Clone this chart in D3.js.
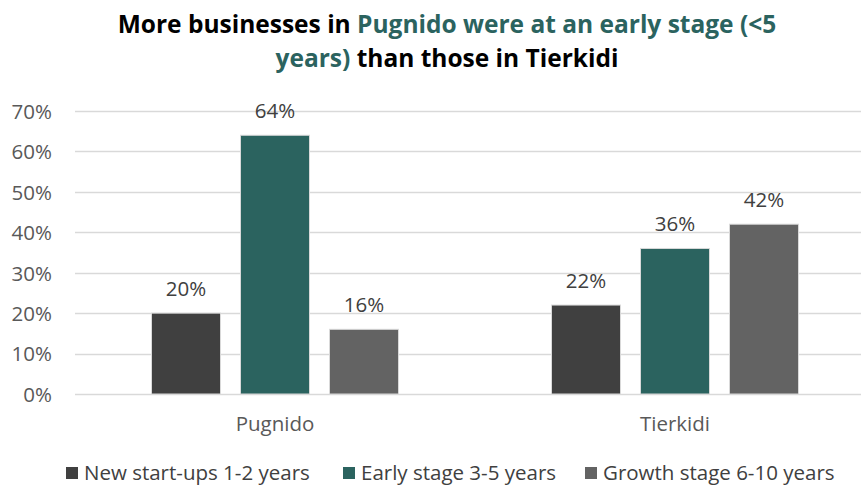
<!DOCTYPE html>
<html>
<head>
<meta charset="utf-8">
<script src="https://cdnjs.cloudflare.com/ajax/libs/d3/7.8.5/d3.min.js"></script>
<style>
  html, body { margin: 0; padding: 0; background: #fff; }
  svg { display: block; font-family: "Open Sans", sans-serif; }
</style>
</head>
<body>
<svg id="chart" width="861" height="491"></svg>
<script>
// Business stage by camp (share of businesses)
const categories = ["Pugnido", "Tierkidi"];
const seriesNames = ["New start-ups 1-2 years", "Early stage 3-5 years", "Growth stage 6-10 years"];
const newStartups = [20, 22];
const earlyStage = [64, 36];
const growthStage = [16, 42];
const yTicks = [0, 10, 20, 30, 40, 50, 60, 70];
const colors = ["#404040", "#2b635f", "#636363"];

const series = [newStartups, earlyStage, growthStage];

const W = 861, H = 491;
const plot = { left: 75, right: 875, top: 111, bottom: 394 };
const groupWidth = 247;
const FONT = "'Open Sans', sans-serif";
const LABEL_SIZE = 20.5;

const svg = d3.select("#chart");

const x0 = d3.scaleBand().domain(categories).range([plot.left, plot.right]).paddingInner(0).paddingOuter(0);
const x1 = d3.scaleBand().domain(d3.range(seriesNames.length)).range([0, groupWidth]).paddingInner(0.2247).paddingOuter(0);
const y = d3.scaleLinear().domain([0, 70]).range([plot.bottom, plot.top]);

// gridlines
svg.append("g")
  .selectAll("line")
  .data(yTicks)
  .join("line")
  .attr("x1", plot.left).attr("x2", W)
  .attr("y1", d => Math.round(y(d)) + 0.5).attr("y2", d => Math.round(y(d)) + 0.5)
  .attr("stroke", "#d9d9d9").attr("stroke-width", 1.3);

// y axis labels
const yAxis = d3.axisLeft(y).tickValues(yTicks).tickFormat(d => d + "%").tickSize(0).tickPadding(0);
const ya = svg.append("g").attr("transform", `translate(52,0)`).call(yAxis);
ya.select(".domain").remove();
ya.selectAll("text")
  .attr("font-family", FONT)
  .attr("font-size", LABEL_SIZE).attr("fill", "#595959").attr("dy", "0.36em");

// bars
const groups = svg.append("g")
  .selectAll("g")
  .data(categories)
  .join("g")
  .attr("transform", c => `translate(${x0(c) + (x0.bandwidth() - groupWidth) / 2},0)`);

groups.selectAll("rect")
  .data((c, ci) => series.map((s, si) => ({ si, v: s[ci] })))
  .join("rect")
  .attr("x", d => x1(d.si))
  .attr("width", x1.bandwidth())
  .attr("y", d => y(d.v))
  .attr("height", d => y(0) - y(d.v))
  .attr("fill", d => colors[d.si])
  .attr("stroke", "#d9d9d9").attr("stroke-width", 1);

groups.selectAll("text.val")
  .data((c, ci) => series.map((s, si) => ({ si, v: s[ci] })))
  .join("text")
  .attr("class", "val")
  .attr("x", d => x1(d.si) + x1.bandwidth() / 2)
  .attr("y", d => y(d.v) - 17)
  .attr("text-anchor", "middle")
  .attr("font-size", LABEL_SIZE).attr("fill", "#404040")
  .text(d => d.v + "%");

// category labels
const xAxis = d3.axisBottom(x0).tickSize(0).tickPadding(0);
const xa = svg.append("g").attr("transform", `translate(0,${plot.bottom})`).call(xAxis);
xa.select(".domain").remove();
xa.selectAll("text")
  .attr("font-family", FONT)
  .attr("font-size", LABEL_SIZE).attr("fill", "#595959").attr("dy", 0).attr("y", 37);

// title
const title = svg.append("text")
  .attr("text-anchor", "middle")
  .attr("font-size", 24.5).attr("font-weight", "bold").attr("fill", "#000");
const t1 = title.append("tspan").attr("x", 447).attr("y", 33);
t1.append("tspan").text("More businesses in ");
t1.append("tspan").attr("fill", "#2b635f").text("Pugnido were at an early stage (<5");
const t2 = title.append("tspan").attr("x", 447).attr("y", 67);
t2.append("tspan").attr("fill", "#2b635f").text("years)");
t2.append("tspan").text(" than those in Tierkidi");

// legend
const legendX = [66, 343, 585];
const lg = svg.append("g")
  .selectAll("g")
  .data(seriesNames)
  .join("g")
  .attr("transform", (d, i) => `translate(${legendX[i]},0)`);
lg.append("rect").attr("x", 0).attr("y", 467).attr("width", 12).attr("height", 12).attr("fill", (d, i) => colors[i]);
lg.append("text").attr("x", 18).attr("y", 480)
  .attr("font-size", LABEL_SIZE).attr("fill", "#404040").text(d => d);
</script>
</body>
</html>
